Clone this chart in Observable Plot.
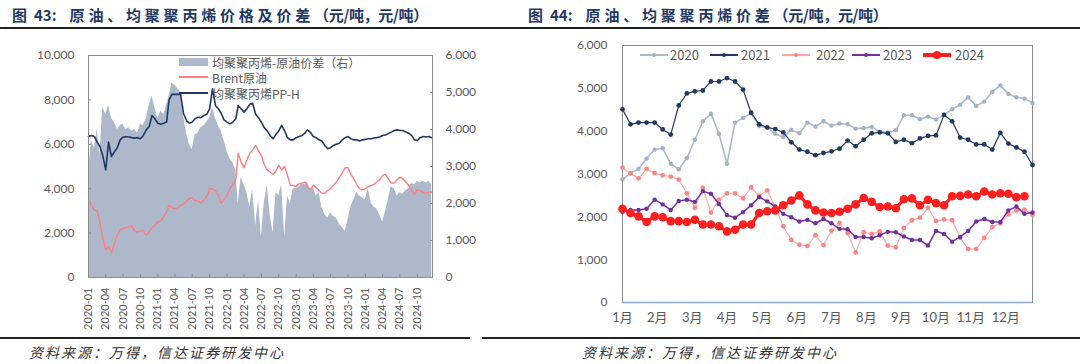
<!DOCTYPE html>
<html><head><meta charset="utf-8">
<script src="https://cdn.jsdelivr.net/npm/d3@7"></script>
<script src="https://cdn.jsdelivr.net/npm/@observablehq/plot@0.6"></script>
<style>
body{margin:0;background:#fff;}
#page{position:relative;width:1080px;height:364px;overflow:hidden;font-family:"Noto Sans CJK SC",sans-serif;background:#fff;}
.abs{position:absolute;}
.title{top:5px;font-size:15px;font-weight:700;color:#1f3864;white-space:nowrap;line-height:20px;}
.title .sp{letter-spacing:3.8px;margin-left:13px;}
.title .num{margin-left:7px;}
.title .br{letter-spacing:-0.3px;}
.cap{top:343px;font-size:14px;font-style:italic;color:#333;letter-spacing:2px;white-space:nowrap;line-height:18px;}
.lg{font-size:12px;color:#595959;white-space:nowrap;line-height:15px;}
</style></head>
<body><div id="page">
<div class="abs title" style="left:12px;">图<span class="num">43:</span><span class="sp">原油、均聚聚丙烯价格及价差</span><span class="br">（元/吨，元/吨）</span></div>
<div class="abs title" style="left:528px;">图<span class="num">44:</span><span class="sp">原油、均聚聚丙烯价差</span><span class="br">（元/吨，元/吨）</span></div>
<div class="abs" style="left:0;top:27px;width:1080px;height:2px;background:#222;"></div>
<div id="c1" class="abs" style="left:0;top:40px;"></div>
<div id="c2" class="abs" style="left:540px;top:40px;"></div>
<div class="abs" style="left:0;top:337px;width:470px;height:2px;background:#222;"></div>
<div class="abs" style="left:482px;top:337px;width:598px;height:2px;background:#222;"></div>
<div class="abs cap" style="left:29px;">资料来源：万得，信达证券研发中心</div>
<div class="abs cap" style="left:582px;">资料来源：万得，信达证券研发中心</div>
</div>
<script>
// ---------- Left chart data (semi-monthly: 1st and 16th of each month) ----------
const months = [
"2020-01","2020-02","2020-03","2020-04","2020-05","2020-06","2020-07","2020-08","2020-09","2020-10","2020-11","2020-12",
"2021-01","2021-02","2021-03","2021-04","2021-05","2021-06","2021-07","2021-08","2021-09","2021-10","2021-11","2021-12",
"2022-01","2022-02","2022-03","2022-04","2022-05","2022-06","2022-07","2022-08","2022-09","2022-10","2022-11","2022-12",
"2023-01","2023-02","2023-03","2023-04","2023-05","2023-06","2023-07","2023-08","2023-09","2023-10","2023-11","2023-12",
"2024-01","2024-02","2024-03","2024-04","2024-05","2024-06","2024-07","2024-08","2024-09","2024-10","2024-11","2024-12"];
const halfDays = ["01","16"];

// 均聚聚丙烯PP-H (left axis)
const ppH = [
6350,6400, 6350,6100, 5900,5500, 4850,6100, 5450,5650, 5850,6200, 6320,6350, 6330,6300, 6280,6300, 6250,6400, 6650,6800, 7300,7150,
6950,6900, 6950,7000, 8000,8250, 8250,8250, 8250,7400, 7070,6950, 7000,7150, 7220,7200, 7300,7350, 7600,8500, 7750,7600, 7400,7100,
7000,6920, 7000,7150, 7750,7600, 7450,7600, 7800,7850, 7350,7200, 7000,6750, 6600,6400, 6250,6450, 6600,6850, 6600,6300, 6200,6200,
6300,6350, 6400,6500, 6650,6550, 6350,6300, 6200,6150, 5950,5800, 5850,5950, 6000,6050, 6200,6300, 6350,6250, 6200,6200, 6150,6200,
6220,6250, 6250,6280, 6300,6330, 6400,6420, 6480,6550, 6620,6650, 6620,6620, 6550,6500, 6400,6200, 6170,6300, 6350,6330, 6350,6300];

// Brent原油 (left axis)
const brent = [
3500,3250, 3050,3000, 2500,1800, 1250,1400, 1100,1500, 1900,2150, 2200,2250, 2280,2320, 2100,2050, 2100,2100, 1900,2050, 2250,2350,
2500,2550, 2750,2950, 3250,3150, 3100,3150, 3250,3300, 3450,3550, 3600,3450, 3450,3350, 3500,3650, 4000,4000, 3900,3700, 3350,3500,
3700,4000, 4200,4400, 5600,5200, 4950,5300, 5600,5750, 5950,5700, 5500,5100, 4850,4750, 4650,4800, 5050,4850, 5000,4600, 4150,4150,
4100,4220, 4250,4300, 4100,3950, 4150,4050, 3920,3800, 3800,3920, 4000,4150, 4300,4500, 4700,4950, 4950,4650, 4450,4200, 4000,3950,
4000,4100, 4150,4200, 4300,4400, 4600,4650, 4450,4250, 4250,4400, 4520,4450, 4300,4150, 3900,3750, 3950,3900, 3850,3800, 3850,3850];

// 均聚聚丙烯-原油价差 (right axis)
const spread = [
2800,3700, 3500,4000, 3300,4600, 4400,4650, 4300,4200, 4000,4100, 4150,4000, 4050,3950, 4000,3900, 4150,4100, 4300,4650, 4900,4600,
4300,4500, 4400,4650, 4900,5250, 5200,5100, 5000,4400, 3900,3600, 3450,3850, 3900,4050, 4100,4200, 4300,4600, 4300,4100, 3950,3700,
3400,3200, 3100,2900, 2000,2700, 2500,2300, 1900,2400, 1400,2100, 1100,2000, 2500,1700, 1200,2300, 2200,2500, 1100,2200, 2000,2400,
2400,2450, 2550,2500, 2600,2350, 2450,2200, 2300,1900, 1700,1600, 1750,1650, 1600,1450, 1350,1250, 1550,1900, 2100,2300, 2200,2150,
2100,2400, 2000,1900, 1850,1700, 1500,1800, 2100,2450, 2400,2200, 2300,2250, 2350,2400, 2550,2500, 2600,2550, 2600,2550, 2600,2500];

const quarterTicks = ["2020-01","2020-04","2020-07","2020-10","2021-01","2021-04","2021-07","2021-10",
"2022-01","2022-04","2022-07","2022-10","2023-01","2023-04","2023-07","2023-10","2024-01","2024-04","2024-07","2024-10"];
const leftTicks = [0,2000,4000,6000,8000,10000];
const rightTicks = [0,1000,2000,3000,4000,5000,6000];

// ---------- Right chart data (weekly, by year) ----------
const monthLabels = ["1月","2月","3月","4月","5月","6月","7月","8月","9月","10月","11月","12月"];
const y2020 = [2870,3020,3120,3360,3570,3600,3240,3110,3370,3800,4230,4410,3940,3240,4200,4310,4420,4120,4080,3940,3860,4030,3950,4200,4110,4230,4130,4180,4160,4060,4070,4100,3990,3970,4020,4370,4370,4280,4340,4270,4380,4510,4620,4790,4590,4690,4920,5070,4870,4790,4760,4660];
const y2021 = [4510,4160,4200,4200,4200,4040,3920,4600,4880,4930,4950,5160,5160,5240,5160,4970,4430,4160,4090,4050,3970,3740,3570,3520,3440,3490,3530,3590,3780,3650,3800,3950,3970,3950,3750,3800,3720,3830,3890,3900,4380,4230,3850,3800,3690,3690,3570,3960,3710,3620,3520,3210];
const y2022 = [3150,3010,2900,3120,3020,2970,2940,2870,2550,2210,2680,2100,2400,2550,2550,2430,2690,2490,2620,2230,1780,1460,1350,1320,1570,1340,1680,1850,1620,1170,1640,1600,1660,1330,1290,1740,1920,1980,2210,1900,1940,1920,1510,1250,1250,1510,1760,1850,2060,2150,2160,2050];
const y2023 = [2120,2160,2160,2190,2400,2290,2160,2370,2400,2350,2600,2540,2300,2040,1980,2110,2270,2460,2360,2240,2070,1990,1890,1930,1850,1950,1850,1720,1710,1530,1530,1500,1570,1650,1640,1540,1460,1460,1330,1670,1600,1420,1530,1670,1890,1950,1880,1880,2150,2240,2070,2100];
const y2024 = [2190,2090,2010,1880,2010,1990,1900,1900,1880,1930,1820,1820,1780,1660,1700,1820,1820,2090,2130,2150,2270,2380,2500,2290,2150,2100,2090,2120,2190,2290,2440,2350,2230,2240,2200,2410,2430,2270,2400,2320,2270,2480,2490,2520,2480,2590,2520,2550,2540,2460,2480];
const yearNames = ["2020","2021","2022","2023","2024"];

// ---------- Left chart ----------
const rows = [];
months.forEach((m, i) => halfDays.forEach((d, j) => {
  const k = i * 2 + j;
  rows.push({date: new Date(`${m}-${d}T00:00:00Z`), pp: ppH[k], brent: brent[k], spread: spread[k]});
}));
const kR = 10000 / 6000;
const fmt = d3.format(",");
const numFont = "Lato, 'Noto Sans CJK SC', sans-serif";

const left = Plot.plot({
  width: 540, height: 300,
  marginTop: 15, marginBottom: 63, marginLeft: 88, marginRight: 108,
  x: {type: "utc", domain: [new Date("2020-01-01T00:00:00Z"), new Date("2024-12-20T00:00:00Z")]},
  y: {domain: [0, 10000]},
  style: {fontFamily: numFont, fontSize: "12px", color: "#595959", background: "transparent", overflow: "visible"},
  marks: [
    Plot.areaY(rows, {x: "date", y: d => d.spread * kR, fill: "#adb9ca"}),
    Plot.lineY(rows, {x: "date", y: "brent", stroke: "#ff7c80", strokeWidth: 1.4}),
    Plot.lineY(rows, {x: "date", y: "pp", stroke: "#203864", strokeWidth: 1.6}),
    Plot.frame({stroke: "#8c8c8c"}),
    Plot.axisY({anchor: "left", ticks: leftTicks, tickFormat: fmt, tickSize: -3, tickPadding: 17, label: null, stroke: "#8c8c8c"}),
    Plot.axisY({anchor: "right", ticks: rightTicks.map(v => v * kR), tickFormat: d => fmt(Math.round(d / kR)), tickSize: -3, tickPadding: 16, label: null, stroke: "#8c8c8c"}),
    Plot.axisX({ticks: quarterTicks.map(s => new Date(s + "-01T00:00:00Z")), tickFormat: d3.utcFormat("%Y-%m"), tickRotate: -90, tickSize: -3, tickPadding: 13, fontSize: 11, label: null, stroke: "#8c8c8c"})
  ]
});
document.getElementById("c1").appendChild(left);

// ---------- Right chart ----------
const styles = [
  {vals: y2020, stroke: "#adb9ca", sw: 1.6, r: 2.2, fill: "#a3b1c4"},
  {vals: y2021, stroke: "#203864", sw: 1.2, r: 2.4, fill: "#203864"},
  {vals: y2022, stroke: "#ffa3a3", sw: 1.1, r: 2.4, fill: "#ff8585"},
  {vals: y2023, stroke: "#7030a0", sw: 1.5, r: 2.2, fill: "#7030a0"},
  {vals: y2024, stroke: "#ff1f1f", sw: 3.2, r: 4.3, fill: "#ff1f1f"}
];
const monthPos = monthLabels.map((_, i) => i * 52 / 12);
const posLabel = new Map(monthPos.map((p, i) => [p, monthLabels[i]]));
const rmarks = [
  Plot.frame({stroke: "#8c8c8c"}),
  Plot.ruleY([0], {stroke: "#8ea9db", strokeWidth: 1.3})
];
styles.forEach(s => {
  rmarks.push(Plot.lineY(s.vals, {x: (d, i) => i, y: d => d, stroke: s.stroke, strokeWidth: s.sw}));
  rmarks.push(Plot.dot(s.vals, {x: (d, i) => i, y: d => d, r: s.r, fill: s.fill, stroke: "none"}));
});
rmarks.push(Plot.axisY({ticks: rightTicks, tickFormat: fmt, tickSize: 0, tickPadding: 15, label: null}));
rmarks.push(Plot.axisX({ticks: monthPos, tickFormat: d => posLabel.get(d), tickSize: 0, tickPadding: 10, fontSize: 13, label: null}));
const right = Plot.plot({
  width: 540, height: 300,
  marginTop: 5, marginBottom: 38, marginLeft: 82, marginRight: 48,
  x: {domain: [0, 51]},
  y: {domain: [0, 6000]},
  style: {fontFamily: numFont, fontSize: "12px", color: "#595959", background: "transparent", overflow: "visible"},
  marks: rmarks
});
document.getElementById("c2").appendChild(right);

// ---------- Legends (HTML) ----------
const page = document.getElementById("page");
function el(css, cls, text) {
  const d = document.createElement("div");
  d.className = "abs" + (cls ? " " + cls : "");
  d.style.cssText += css;
  if (text) d.textContent = text;
  page.appendChild(d);
  return d;
}
const leftLegend = ["均聚聚丙烯-原油价差（右）", "Brent原油", "均聚聚丙烯PP-H"];
el("left:179px;top:58px;width:29px;height:8px;background:#adb9ca;");
el("left:212px;top:54.5px;", "lg", leftLegend[0]);
el("left:179px;top:76px;width:29px;height:2px;background:#ff7c80;");
el("left:212px;top:70px;", "lg", leftLegend[1]);
el("left:179px;top:92px;width:29px;height:2px;background:#203864;");
el("left:212px;top:85.5px;", "lg", leftLegend[2]);

const legX = [[640, 670], [710, 741], [782, 816], [852, 883], [923, 955]];
styles.forEach((s, i) => {
  const [lx, tx] = legX[i];
  const h = Math.max(1.5, s.sw);
  el(`left:${lx}px;top:${55 - h / 2}px;width:28px;height:${h}px;background:${s.stroke};`);
  const r = s.r;
  el(`left:${lx + 14 - r}px;top:${55 - r}px;width:${2 * r}px;height:${2 * r}px;border-radius:50%;background:${s.fill};`);
  el(`left:${tx}px;top:47px;font-size:13px;line-height:16px;`, "lg", yearNames[i]);
});
</script>
</body></html>
